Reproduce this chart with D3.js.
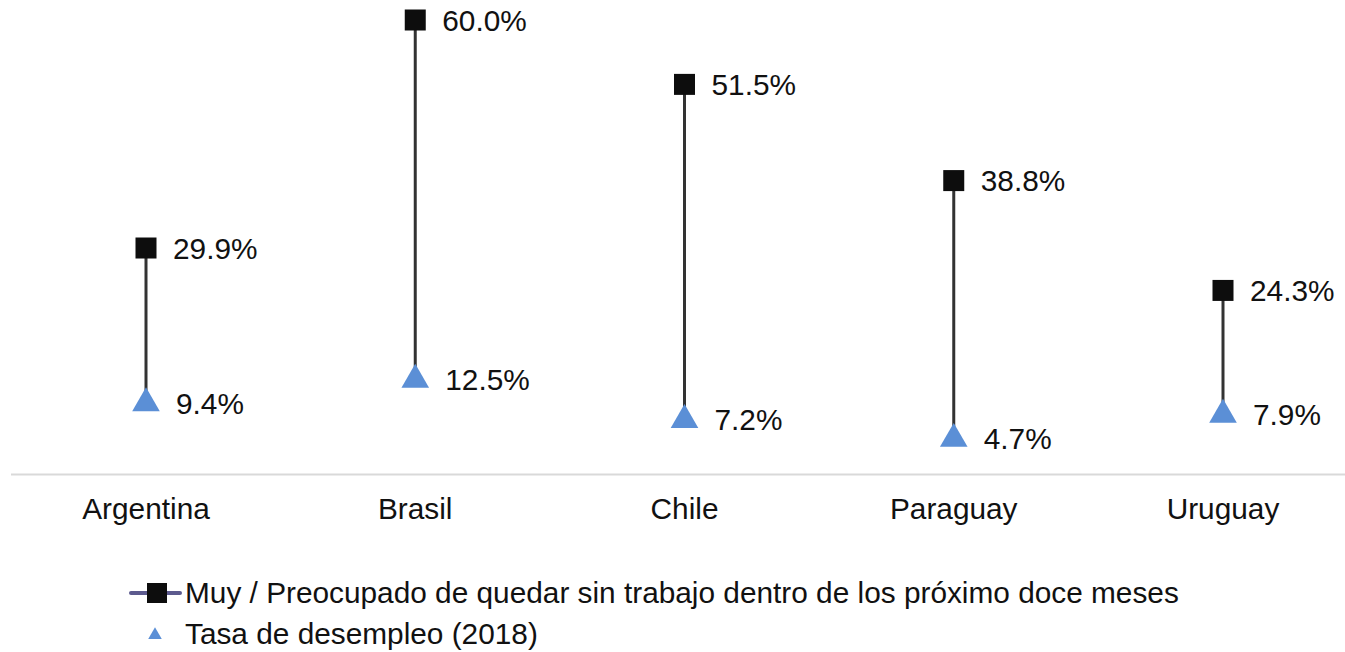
<!DOCTYPE html>
<html><head><meta charset="utf-8">
<script src="https://cdn.jsdelivr.net/npm/d3@7"></script>
<style>body{margin:0;background:#fff}svg{display:block}text{font-family:"Liberation Sans",Arial,sans-serif}</style>
</head><body>
<svg id="c" width="1345" height="652"></svg>
<script>
const categories = ["Argentina","Brasil","Chile","Paraguay","Uruguay"];
const worried = [29.9, 60.0, 51.5, 38.8, 24.3];
const unemployment = [9.4, 12.5, 7.2, 4.7, 7.9];
const seriesNames = ["Muy / Preocupado de quedar sin trabajo dentro de los próximo doce meses","Tasa de desempleo (2018)"];

const FS = 29.8;
const svg = d3.select("#c");
const x = d3.scalePoint().domain(categories).range([146, 1223]);
const y = d3.scaleLinear().domain([0, 60]).range([474.5, 20]);

// baseline
svg.append("line").attr("x1", 11).attr("x2", 1345).attr("y1", y(0)).attr("y2", y(0))
  .attr("stroke", "#d9d9d9").attr("stroke-width", 2);

const g = svg.append("g");
categories.forEach((c, i) => {
  const cx = x(c);
  g.append("line").attr("x1", cx).attr("x2", cx).attr("y1", y(worried[i])).attr("y2", y(unemployment[i]))
    .attr("stroke", "#333").attr("stroke-width", 3);
  // triangle
  const ty = y(unemployment[i]);
  g.append("path").attr("d", d3.symbol(d3.symbolTriangle, 330)()).attr("transform", `translate(${cx},${ty})`)
    .attr("fill", "#5b8fd6");
  g.append("text").attr("x", cx + 30).attr("y", ty + 10.5).attr("font-size", FS).attr("fill", "#111")
    .text(unemployment[i].toFixed(1) + "%");
  // square
  const sy = y(worried[i]);
  g.append("rect").attr("x", cx - 10.5).attr("y", sy - 10.5).attr("width", 21).attr("height", 21)
    .attr("fill", "#0d0d0d");
  g.append("text").attr("x", cx + 27).attr("y", sy + 10.5).attr("font-size", FS).attr("fill", "#111")
    .text(worried[i].toFixed(1) + "%");
  g.append("text").attr("x", cx).attr("y", 519).attr("text-anchor", "middle").attr("font-size", FS).attr("fill", "#111")
    .text(c);
});

// legend
const lg = svg.append("g");
lg.append("line").attr("x1", 131).attr("x2", 180).attr("y1", 593).attr("y2", 593)
  .attr("stroke", "#5c5a8e").attr("stroke-width", 4).attr("stroke-linecap", "round");
lg.append("rect").attr("x", 147).attr("y", 583).attr("width", 20).attr("height", 20).attr("fill", "#0d0d0d");
lg.append("text").attr("x", 185).attr("y", 603).attr("font-size", FS).attr("fill", "#111").text(seriesNames[0]);
lg.append("path").attr("d", d3.symbol(d3.symbolTriangle, 80)()).attr("transform", "translate(155,635)").attr("fill", "#5b8fd6");
lg.append("text").attr("x", 185).attr("y", 644).attr("font-size", FS).attr("fill", "#111").text(seriesNames[1]);
</script>
</body></html>
